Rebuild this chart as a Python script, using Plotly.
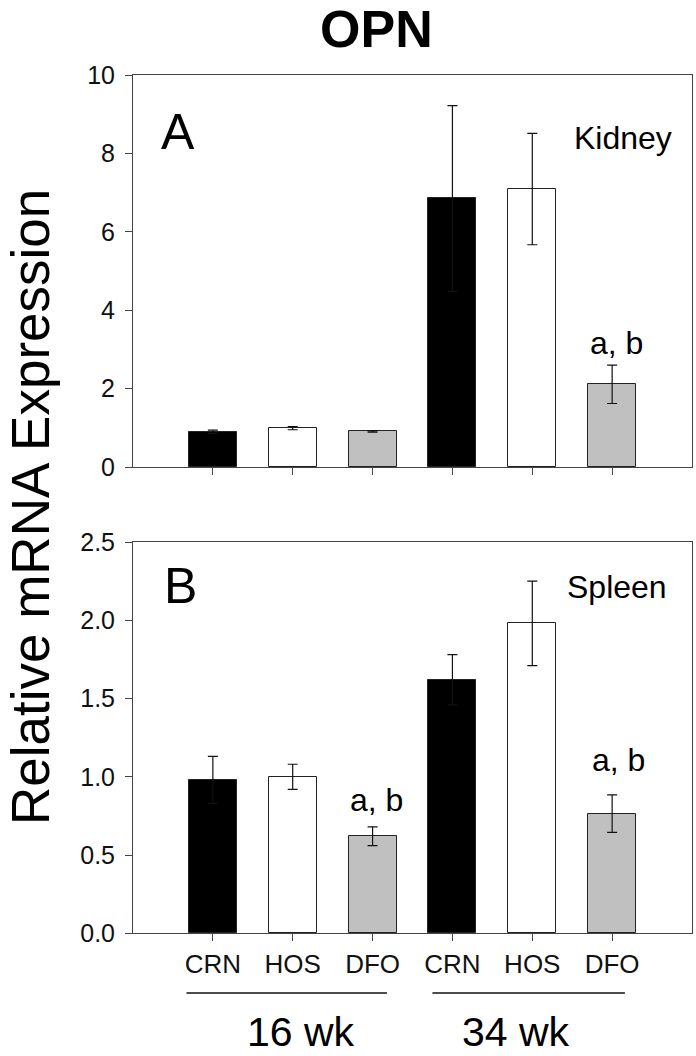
import plotly.graph_objects as go

# ---- data ----
categories = ["CRN", "HOS", "DFO", "CRN", "HOS", "DFO"]
groups = ["16 wk", "34 wk"]
kidney_mean = [0.90, 0.99, 0.91, 6.85, 7.09, 2.11]
kidney_err = [0.04, 0.04, 0.02, 2.37, 1.42, 0.49]
spleen_mean = [0.98, 1.00, 0.62, 1.62, 1.98, 0.765]
spleen_err = [0.15, 0.08, 0.06, 0.16, 0.27, 0.12]
bar_colors = ["#000000", "#ffffff", "#c0c0c0", "#000000", "#ffffff", "#c0c0c0"]
yticks_a = [0, 2, 4, 6, 8, 10]
yticks_b = [0.0, 0.5, 1.0, 1.5, 2.0, 2.5]

FONT = "Liberation Sans, Arial, sans-serif"
W, H = 696, 1056
xpos = list(range(len(categories)))

fig = go.Figure()
for mean, err, xa, ya in [(kidney_mean, kidney_err, "x", "y"),
                          (spleen_mean, spleen_err, "x2", "y2")]:
    fig.add_trace(go.Bar(
        x=xpos, y=mean, width=0.6, xaxis=xa, yaxis=ya,
        marker=dict(color=bar_colors, line=dict(color="#222222", width=1)),
        error_y=dict(type="data", array=err, visible=True, color="#111111",
                     thickness=1.2, width=5),
        showlegend=False, hoverinfo="skip"))

x_dom = [133 / W, 692 / W]
ya_dom = [(H - 467) / H, (H - 75) / H]
yb_dom = [(H - 933.3) / H, (H - 542) / H]
axcol = "#444444"

common_x = dict(range=[-1, 6], domain=x_dom, showline=True, mirror=True,
                linecolor=axcol, linewidth=1, ticks="outside", ticklen=7,
                tickcolor=axcol, tickvals=xpos, showgrid=False, zeroline=False,
                automargin=False)
common_y = dict(showline=True, mirror=True, linecolor=axcol, linewidth=1,
                ticks="outside", ticklen=7, tickcolor=axcol, showgrid=False,
                zeroline=False, tickfont=dict(family=FONT, size=25, color="#111"),
                ticklabelstandoff=5, automargin=False)

fig.update_layout(
    width=W, height=H, margin=dict(l=0, r=0, t=0, b=0, autoexpand=False),
    paper_bgcolor="white", plot_bgcolor="white", bargap=0,
    xaxis=dict(**common_x, anchor="y", showticklabels=False),
    yaxis=dict(**common_y, domain=ya_dom, range=[0, 10], tickvals=yticks_a,
               ticktext=[str(v) for v in yticks_a], anchor="x"),
    xaxis2=dict(**common_x, anchor="y2", ticktext=categories,
                tickfont=dict(family=FONT, size=26, color="#111"),
                ticklabelstandoff=0),
    yaxis2=dict(**common_y, domain=yb_dom, range=[0, 2.5], tickvals=yticks_b,
                ticktext=[f"{v:.1f}" for v in yticks_b], anchor="x2"),
)

def ann(text, x, y, size, xref="paper", yref="paper", **kw):
    fig.add_annotation(text=text, x=x, y=y, xref=xref, yref=yref, showarrow=False,
                       font=dict(family=FONT, size=size, color="#000"),
                       xanchor="center", yanchor="middle", **kw)

ann("<b>OPN</b>", 376 / W, 1 - 29 / H, 52)
ann("Relative mRNA Expression", 30 / W, 1 - 507 / H, 53, textangle=-90)
ann("A", 178 / W, 1 - 132 / H, 50)
ann("Kidney", 623 / W, 1 - 138 / H, 32)
ann("B", 180 / W, 1 - 586 / H, 50)
ann("Spleen", 617 / W, 1 - 587 / H, 32)
ann("a, b", 5.05, 3.16, 32, xref="x", yref="y")
ann("a, b", 2.05, 0.85, 32, xref="x2", yref="y2")
ann("a, b", 5.08, 1.11, 32, xref="x2", yref="y2")

# group labels under the categories
ann(groups[0], 1.1, 1 - 1032 / H, 41, xref="x2")
ann(groups[1], 3.8, 1 - 1032 / H, 41, xref="x2")
for x0, x1 in [(-0.33, 2.18), (2.75, 5.16)]:
    fig.add_shape(type="line", xref="x2", yref="paper", x0=x0, x1=x1,
                  y0=1 - 993 / H, y1=1 - 993 / H,
                  line=dict(color="#111", width=1.5))

fig.write_html("out.html", config={"displayModeBar": False},
               post_script="document.body.style.margin='0';document.body.style.overflow='hidden';")
